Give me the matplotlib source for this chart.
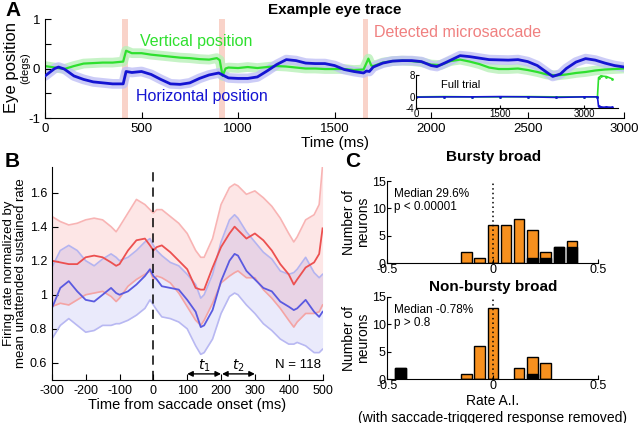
import numpy as np
import matplotlib
matplotlib.use("Agg")
import matplotlib.pyplot as plt

plt.rcParams['font.family'] = ['Liberation Sans', 'DejaVu Sans']
plt.rcParams['axes.unicode_minus'] = False

# ---------- Panel A: eye trace ----------
horiz_t = [0, 50, 70, 100, 150, 200, 250, 300, 350, 405, 420, 450, 500, 550, 600, 650, 700, 750,
           800, 850, 900, 920, 950, 1000, 1050, 1100, 1150, 1200, 1250, 1300, 1350, 1400, 1450,
           1500, 1550, 1600, 1650, 1665, 1680, 1700, 1750, 1800, 1850, 1900, 1950, 2000, 2030,
           2075, 2150, 2200, 2250, 2300, 2400, 2450, 2500, 2550, 2600, 2630, 2670, 2700, 2750,
           2800, 2850, 2900, 2950, 3000]
horiz_pos = [-0.15, 0.0, 0.03, -0.01, -0.15, -0.22, -0.27, -0.29, -0.31, -0.31, -0.06, -0.08,
             -0.06, -0.12, -0.22, -0.31, -0.32, -0.29, -0.20, -0.13, -0.09, -0.13, -0.19, -0.20,
             -0.20, -0.17, -0.05, 0.08, 0.18, 0.16, 0.11, 0.10, 0.10, 0.06, -0.02, -0.06, -0.09,
             -0.05, -0.06, 0.03, 0.11, 0.15, 0.16, 0.16, 0.14, 0.06, 0.04, 0.12, 0.26, 0.24, 0.21,
             0.18, 0.17, 0.18, 0.14, 0.06, -0.08, -0.16, -0.11, 0.0, 0.13, 0.20, 0.17, 0.11,
             0.06, 0.03]

vert_t = [0, 50, 100, 150, 200, 250, 300, 350, 405, 420, 450, 500, 550, 600, 650, 700, 750, 800,
          850, 890, 905, 920, 935, 950, 1000, 1050, 1100, 1150, 1200, 1250, 1300, 1350, 1400,
          1450, 1500, 1550, 1600, 1650, 1675, 1690, 1700, 1750, 1800, 1850, 1900, 1950, 2000,
          2050, 2100, 2150, 2200, 2250, 2300, 2350, 2400, 2450, 2500, 2550, 2600, 2650, 2700,
          2750, 2800, 2850, 2900, 2950, 3000]
vert_pos = [0.05, 0.02, -0.01, 0.05, 0.10, 0.11, 0.12, 0.12, 0.14, 0.36, 0.31, 0.31, 0.28, 0.26,
            0.24, 0.22, 0.21, 0.19, 0.18, 0.21, 0.17, -0.15, 0.0, 0.02, 0.01, 0.03, 0.01, 0.03,
            0.05, 0.04, 0.02, 0.0, 0.0, -0.01, -0.01, -0.01, -0.03, -0.02, 0.20, 0.06, 0.05,
            0.12, 0.15, 0.16, 0.15, 0.13, 0.08, 0.07, 0.15, 0.18, 0.14, 0.09, 0.02, -0.01, -0.01,
            0.0, -0.03, -0.07, -0.12, -0.14, -0.12, -0.09, -0.07, -0.04, -0.02, -0.01, 0.0]

microsaccades = [(400, 428), (901, 932), (1649, 1675)]

full_t = [0, 500, 1000, 1500, 2000, 2500, 3000, 3240, 3260, 3300, 3400, 3500]
full_h = [-0.1, 0.0, 0.0, 0.1, 0.0, -0.2, 0.0, 0.0, -3.5, -3.8, -3.7, -3.8]
full_v = [0.0, 0.1, 0.0, 0.0, 0.1, 0.0, 0.0, 0.0, 7.0, 7.6, 7.4, 6.6]

# ---------- Panel B: saccade-aligned firing rate ----------
time_b = [-300, -275, -250, -225, -200, -175, -150, -125, -110, -100, -75, -50, -25, -10, 0, 10,
          25, 50, 75, 100, 125, 140, 150, 175, 200, 225, 240, 250, 275, 300, 325, 350, 375, 400,
          415, 425, 450, 475, 490, 500]
red_mean = [1.20, 1.19, 1.18, 1.18, 1.22, 1.23, 1.22, 1.19, 1.17, 1.18, 1.26, 1.32, 1.33, 1.29,
            1.26, 1.28, 1.29, 1.25, 1.20, 1.15, 1.04, 1.03, 1.03, 1.16, 1.28, 1.36, 1.40, 1.38,
            1.33, 1.36, 1.32, 1.26, 1.18, 1.12, 1.06, 1.09, 1.16, 1.19, 1.24, 1.39]
red_hi = [1.46, 1.43, 1.41, 1.42, 1.44, 1.45, 1.44, 1.40, 1.37, 1.40, 1.48, 1.56, 1.53, 1.50,
          1.48, 1.50, 1.50, 1.46, 1.42, 1.36, 1.26, 1.22, 1.22, 1.33, 1.53, 1.63, 1.65, 1.64,
          1.59, 1.61, 1.57, 1.52, 1.45, 1.36, 1.31, 1.34, 1.44, 1.47, 1.53, 1.76]
red_lo = [0.93, 0.95, 0.94, 0.97, 1.00, 1.01, 1.02, 0.99, 0.96, 0.98, 1.05, 1.09, 1.12, 1.14,
          1.09, 1.11, 1.10, 1.07, 1.01, 0.93, 0.85, 0.82, 0.85, 0.95, 1.07, 1.11, 1.13, 1.14,
          1.10, 1.10, 1.03, 0.98, 0.92, 0.85, 0.81, 0.84, 0.89, 0.89, 0.90, 0.94]
blue_mean = [0.92, 1.04, 1.08, 1.02, 0.97, 0.96, 1.00, 1.04, 1.01, 1.00, 1.02, 1.06, 1.11, 1.15,
             1.11, 1.09, 1.05, 1.04, 1.03, 0.97, 0.90, 0.81, 0.82, 0.91, 1.08, 1.20, 1.24, 1.23,
             1.14, 1.09, 1.04, 1.02, 0.96, 0.93, 0.91, 0.92, 0.97, 0.90, 0.87, 0.90]
blue_hi = [1.16, 1.26, 1.29, 1.26, 1.20, 1.17, 1.21, 1.24, 1.22, 1.20, 1.22, 1.26, 1.31, 1.33,
           1.29, 1.26, 1.23, 1.19, 1.17, 1.12, 1.06, 0.98, 1.00, 1.12, 1.31, 1.44, 1.47, 1.45,
           1.37, 1.31, 1.25, 1.21, 1.14, 1.12, 1.13, 1.15, 1.22, 1.13, 1.10, 1.12]
blue_lo = [0.74, 0.82, 0.86, 0.82, 0.78, 0.79, 0.82, 0.82, 0.83, 0.83, 0.85, 0.88, 0.92, 0.97,
           0.94, 0.91, 0.87, 0.86, 0.84, 0.80, 0.70, 0.65, 0.66, 0.74, 0.89, 0.99, 1.01, 1.00,
           0.94, 0.89, 0.83, 0.79, 0.74, 0.71, 0.71, 0.72, 0.70, 0.66, 0.66, 0.68]

# ---------- Panel C: histograms of rate A.I. ----------
bins_top = [-0.125, -0.0625, 0.0, 0.0625, 0.125, 0.1875, 0.25, 0.3125, 0.375]
total_top = [2, 1, 7, 7, 8, 6, 2, 3, 4]
black_top = [0, 0, 0, 0, 0, 1, 1, 3, 3]
bins_bot = [-0.4375, -0.125, -0.0625, 0.0, 0.125, 0.1875, 0.25]
total_bot = [2, 1, 6, 13, 2, 4, 3]
black_bot = [2, 0, 0, 0, 0, 1, 0]

green = '#2ee02e'
blue = '#1414d2'
orange = '#f7901e'

fig = plt.figure(figsize=(6.4, 4.23), dpi=100)

# ---- A ----
axA = fig.add_axes([0.0703, 0.721, 0.905, 0.234])
for a, b in microsaccades:
    axA.axvspan(a, b, color='#f9d3c9', lw=0, zorder=0)
axA.plot(vert_t, vert_pos, color='#b8f0b8', lw=7, alpha=0.8, solid_capstyle='round', zorder=1)
axA.plot(horiz_t, horiz_pos, color='#c0c0f6', lw=7, alpha=0.8, solid_capstyle='round', zorder=1)
axA.plot(vert_t, vert_pos, color=green, lw=1.6, zorder=2)
axA.plot(horiz_t, horiz_pos, color=blue, lw=2.0, zorder=3)
axA.set_xlim(0, 3000)
axA.set_ylim(-1, 1)
axA.set_yticks([-1, -0.5, 0, 0.5, 1])
axA.set_yticklabels(['-1', '', '0', '', '1'])
axA.set_xticks(range(0, 3001, 500))
axA.tick_params(direction='in', labelsize=9.5, length=4)
for s in ['top', 'right']:
    axA.spines[s].set_visible(False)
axA.set_xlabel('Time (ms)', fontsize=11, labelpad=1)
axA.text(785, 0.55, 'Vertical position', color=green, fontsize=11.5, ha='center', va='center')
axA.text(815, -0.57, 'Horizontal position', color=blue, fontsize=11.5, ha='center', va='center')
axA.text(2135, 0.73, 'Detected microsaccade', color='#f08080', fontsize=11.5,
         ha='center', va='center')
fig.text(0.018, 0.84, 'Eye position', rotation=90, fontsize=12, ha='center', va='center')
fig.text(0.039, 0.84, '(degs)', rotation=90, fontsize=8, ha='center', va='center')
fig.text(0.523, 0.976, 'Example eye trace', fontsize=11, fontweight='bold', ha='center', va='center')
fig.text(0.008, 0.975, 'A', fontsize=15, fontweight='bold', ha='left', va='center')

# inset
axI = fig.add_axes([0.650, 0.745, 0.315, 0.078])
axI.plot(full_t, full_v, color=green, lw=1.2, marker='.', ms=2)
axI.plot(full_t, full_h, color=blue, lw=1.2, marker='.', ms=2)
axI.set_xlim(0, 3600)
axI.set_ylim(-4, 8)
axI.set_yticks([-4, 0, 8])
axI.set_xticks([0, 1500, 3000])
axI.tick_params(direction='in', labelsize=7, length=2, pad=1)
axI.patch.set_alpha(0)
for s in ['top', 'right']:
    axI.spines[s].set_visible(False)
axI.text(450, 4.2, 'Full trial', fontsize=8, ha='left', va='center')

# ---- B ----
axB = fig.add_axes([0.081, 0.102, 0.423, 0.503])
axB.fill_between(time_b, red_lo, red_hi, color='#f04040', alpha=0.13, lw=0)
axB.fill_between(time_b, blue_lo, blue_hi, color='#4040e0', alpha=0.11, lw=0)
axB.plot(time_b, red_hi, color='#f8b4b4', lw=1.2)
axB.plot(time_b, red_lo, color='#f4a4a4', lw=1.2)
axB.plot(time_b, blue_hi, color='#b4b4f0', lw=1.2)
axB.plot(time_b, blue_lo, color='#b8b8f2', lw=1.2)
axB.plot(time_b, red_mean, color='#ec5050', lw=1.3)
axB.plot(time_b, blue_mean, color='#5a5ae0', lw=1.3)
axB.axvline(0, color='black', ls=(0, (6, 4)), lw=1.1)
axB.set_xlim(-300, 500)
axB.set_ylim(0.5, 1.75)
axB.set_xticks(range(-300, 501, 100))
axB.set_yticks([0.6, 0.8, 1.0, 1.2, 1.4, 1.6])
axB.set_yticklabels(['0.6', '0.8', '1', '1.2', '1.4', '1.6'])
axB.tick_params(direction='in', labelsize=9, length=4)
for s in ['top', 'right']:
    axB.spines[s].set_visible(False)
axB.set_xlabel('Time from saccade onset (ms)', fontsize=10.5, labelpad=1)
axB.set_ylabel('Firing rate normalized by\nmean unattended sustained rate', fontsize=9.5,
               labelpad=2, linespacing=1.0)
axB.annotate('', xy=(100, 0.535), xytext=(200, 0.535),
             arrowprops=dict(arrowstyle='<|-|>', color='black', lw=1, mutation_scale=8,
                             shrinkA=0, shrinkB=0))
axB.annotate('', xy=(203, 0.535), xytext=(300, 0.535),
             arrowprops=dict(arrowstyle='<|-|>', color='black', lw=1, mutation_scale=8,
                             shrinkA=0, shrinkB=0))
axB.text(150, 0.585, '$t_1$', fontsize=10, ha='center', va='center')
axB.text(252, 0.585, '$t_2$', fontsize=10, ha='center', va='center')
axB.text(495, 0.585, 'N = 118', fontsize=9.5, ha='right', va='center')
fig.text(0.008, 0.618, 'B', fontsize=15, fontweight='bold', ha='left', va='center')

# ---- C ----
fig.text(0.54, 0.618, 'C', fontsize=15, fontweight='bold', ha='left', va='center')


def hist_panel(rect, centers, total, black, title, title_y, note):
    ax = fig.add_axes(rect)
    ax.bar(centers, total, width=0.05, color=orange, edgecolor='black', lw=1)
    ax.bar(centers, black, width=0.05, color='black', edgecolor='black', lw=1)
    ax.axvline(0, ymax=1, color='black', ls=(0, (1, 2)), lw=1.1)
    ax.set_xlim(-0.5, 0.5)
    ax.set_ylim(0, 15)
    ax.set_xticks([-0.5, 0, 0.5])
    ax.set_xticklabels(['-0.5', '0', '0.5'])
    ax.set_yticks([0, 5, 10, 15])
    ax.tick_params(direction='in', labelsize=9, length=3, pad=1)
    for s in ['top', 'right']:
        ax.spines[s].set_visible(False)
    ax.set_ylabel('Number of\nneurons', fontsize=10, labelpad=1, linespacing=1.0)
    ax.text(-0.47, 13.8, note, fontsize=8.5, ha='left', va='top', linespacing=1.2)
    fig.text(0.771, title_y, title, fontsize=11, fontweight='bold', ha='center', va='center')
    return ax


hist_panel([0.605, 0.378, 0.330, 0.194], bins_top, total_top, black_top,
           'Bursty broad', 0.628, 'Median 29.6%\np < 0.00001')
axC2 = hist_panel([0.605, 0.104, 0.330, 0.194], bins_bot, total_bot, black_bot,
                  'Non-bursty broad', 0.322, 'Median -0.78%\np > 0.8')
axC2.set_xlabel('Rate A.I.\n(with saccade-triggered response removed)', fontsize=10,
                labelpad=1, linespacing=1.25)

fig.savefig('out.png', dpi=100)
